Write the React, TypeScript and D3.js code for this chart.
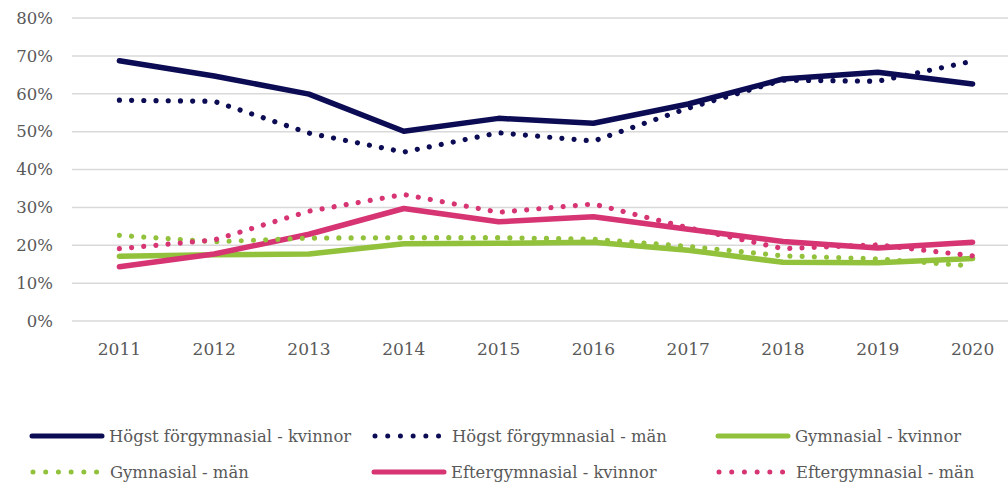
import { useEffect, useRef } from "react";
import * as d3 from "d3";

// andel (%) per år
const years = ["2011", "2012", "2013", "2014", "2015", "2016", "2017", "2018", "2019", "2020"];
const hogstKvinnor = [68.7, 64.7, 59.9, 50.1, 53.5, 52.2, 57.3, 63.9, 65.7, 62.6];
const hogstMan = [58.3, 58.0, 49.6, 44.6, 49.7, 47.5, 56.2, 63.6, 63.3, 68.6];
const gymKvinnor = [17.1, 17.5, 17.7, 20.4, 20.5, 20.8, 18.7, 15.5, 15.4, 16.5];
const gymMan = [22.6, 20.9, 21.9, 22.0, 22.0, 21.6, 19.7, 17.2, 16.4, 14.5];
const efterKvinnor = [14.3, 17.7, 22.9, 29.7, 26.2, 27.5, 24.2, 21.0, 19.3, 20.8];
const efterMan = [19.1, 21.4, 29.0, 33.4, 28.7, 30.9, 24.6, 19.1, 20.1, 17.2];
const yTicks = [0, 10, 20, 30, 40, 50, 60, 70, 80];

const NAVY = "#0c0c55";
const GREEN = "#92c13c";
const PINK = "#d63472";

const series = [
  { name: "Högst förgymnasial - kvinnor", values: hogstKvinnor, color: NAVY, dotted: false },
  { name: "Högst förgymnasial - män", values: hogstMan, color: NAVY, dotted: true },
  { name: "Gymnasial - kvinnor", values: gymKvinnor, color: GREEN, dotted: false },
  { name: "Gymnasial - män", values: gymMan, color: GREEN, dotted: true },
  { name: "Eftergymnasial - kvinnor", values: efterKvinnor, color: PINK, dotted: false },
  { name: "Eftergymnasial - män", values: efterMan, color: PINK, dotted: true },
];

const FONT = "'DejaVu Serif', Georgia, serif";

const App = () => {
  const svgRef = useRef<SVGSVGElement>(null);

  useEffect(() => {
    const width = 1008;
    const height = 484;
    const svg = d3.select(svgRef.current).attr("width", width).attr("height", height);
    svg.selectAll("*").remove();

    // plot area runs a bit past the right edge, as in the original
    const x = d3.scaleBand().domain(years).range([72, 1020]);
    const y = d3.scaleLinear().domain([0, 80]).range([321, 18]);

    // grid
    svg
      .append("g")
      .selectAll("line")
      .data(yTicks)
      .enter()
      .append("line")
      .attr("x1", 72)
      .attr("x2", width)
      .attr("y1", (d) => y(d))
      .attr("y2", (d) => y(d))
      .attr("stroke", "#d9d9d9")
      .attr("stroke-width", 1.5);

    // y labels
    svg
      .append("g")
      .selectAll("text")
      .data(yTicks)
      .enter()
      .append("text")
      .attr("x", 53)
      .attr("y", (d) => y(d))
      .attr("dy", "0.35em")
      .attr("text-anchor", "end")
      .attr("fill", "#595959")
      .style("font-family", FONT)
      .style("font-size", "16.5px")
      .text((d) => `${d}%`);

    // x labels
    svg
      .append("g")
      .selectAll("text")
      .data(years)
      .enter()
      .append("text")
      .attr("x", (d) => (x(d) as number) + x.bandwidth() / 2)
      .attr("y", 355)
      .attr("text-anchor", "middle")
      .attr("fill", "#595959")
      .style("font-family", FONT)
      .style("font-size", "17px")
      .text((d) => d);

    const line = d3
      .line<number>()
      .x((_, i) => (x(years[i]) as number) + x.bandwidth() / 2)
      .y((d) => y(d));

    // solid lines first, dotted on top
    const order = [0, 2, 4, 1, 3, 5];
    svg
      .append("g")
      .selectAll("path")
      .data(order.map((i) => series[i]))
      .enter()
      .append("path")
      .attr("d", (d) => line(d.values))
      .attr("fill", "none")
      .attr("stroke", (d) => d.color)
      .attr("stroke-width", (d) => (d.dotted ? 5.2 : 5.5))
      .attr("stroke-linecap", "round")
      .attr("stroke-linejoin", "round")
      .attr("stroke-dasharray", (d) => (d.dotted ? "0.01 12.2" : null));

    // legend
    const cols = [30, 372, 716];
    const rows = [436, 472];
    const legend = svg
      .append("g")
      .selectAll("g")
      .data(series)
      .enter()
      .append("g")
      .attr("transform", (_, i) => `translate(${cols[i % 3]},${rows[Math.floor(i / 3)]})`);

    legend
      .append("line")
      .attr("x1", (d) => (d.dotted ? 3 : 2))
      .attr("x2", (d) => (d.dotted ? 68 : 72))
      .attr("y1", 0)
      .attr("y2", 0)
      .attr("stroke", (d) => d.color)
      .attr("stroke-width", 5)
      .attr("stroke-linecap", "round")
      .attr("stroke-dasharray", (d) => (d.dotted ? "0.01 12.7" : null));

    legend
      .append("text")
      .attr("x", (d) => (d.dotted ? 80 : 79))
      .attr("y", 0)
      .attr("dy", "0.35em")
      .attr("fill", "#595959")
      .style("font-family", FONT)
      .style("font-size", "16.4px")
      .text((d) => d.name);
  }, []);

  return (
    <div style={{ position: "absolute", left: 0, top: 0, width: 1008, height: 484, overflow: "hidden", background: "#fff" }}>
      <svg ref={svgRef} style={{ display: "block" }}></svg>
    </div>
  );
};

export default App;
